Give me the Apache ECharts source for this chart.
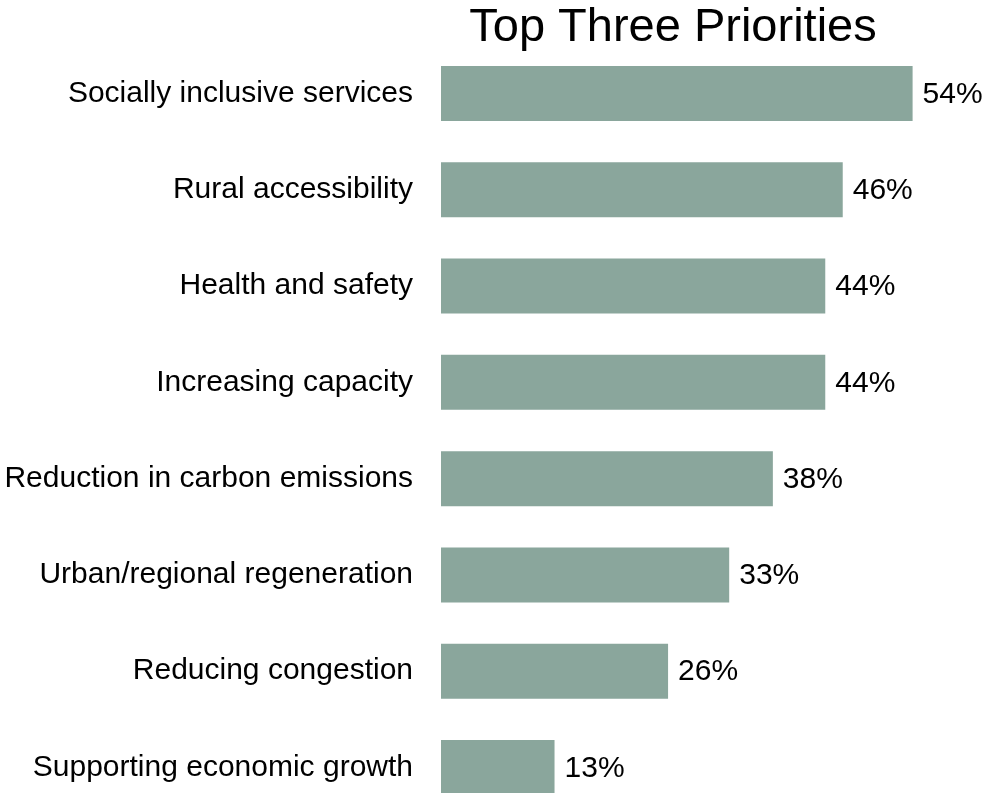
<!DOCTYPE html>
<html>
<head>
<meta charset="utf-8">
<script src="https://cdn.jsdelivr.net/npm/echarts@6/dist/echarts.min.js"></script>
<style>
  html, body { margin: 0; padding: 0; background: #fff; }
  #chart { width: 985px; height: 793px; }
</style>
</head>
<body>
<div id="chart"></div>
<script>
// Priority categories, top to bottom
const categories = [
  'Socially inclusive services',
  'Rural accessibility',
  'Health and safety',
  'Increasing capacity',
  'Reduction in carbon emissions',
  'Urban/regional regeneration',
  'Reducing congestion',
  'Supporting economic growth'
];
// Share of respondents naming each as a top-three priority (%)
const shares = [54, 46, 44, 44, 38, 33, 26, 13];

const font = '"Liberation Sans", Arial, Helvetica, sans-serif';

const chart = echarts.init(document.getElementById('chart'), null, { renderer: 'canvas' });
chart.setOption({
  animation: false,
  backgroundColor: '#ffffff',
  title: {
    text: 'Top Three Priorities',
    left: 668,
    textAlign: 'center',
    top: 0,
    textStyle: { fontFamily: font, fontSize: 47, fontWeight: 'normal', color: '#000' }
  },
  // categories sit on the grid's top and bottom edges (boundaryGap off)
  grid: { left: 441, top: 93.5, width: 524, height: 674, containLabel: false },
  xAxis: {
    type: 'value',
    min: 0,
    max: 60,
    show: false
  },
  yAxis: {
    type: 'category',
    data: categories,
    inverse: true,
    boundaryGap: false,
    axisLine: { show: false },
    axisTick: { show: false },
    splitLine: { show: false },
    axisLabel: {
      margin: 28,
      fontFamily: font,
      fontSize: 30,
      color: '#000'
    }
  },
  series: [{
    type: 'bar',
    data: shares,
    barWidth: 55,
    clip: false,
    itemStyle: { color: '#8AA69C' },
    label: {
      show: true,
      position: 'right',
      distance: 10,
      offset: [0, 1],
      formatter: '{c}%',
      fontFamily: font,
      fontSize: 30,
      color: '#000'
    }
  }]
});
</script>
</body>
</html>
